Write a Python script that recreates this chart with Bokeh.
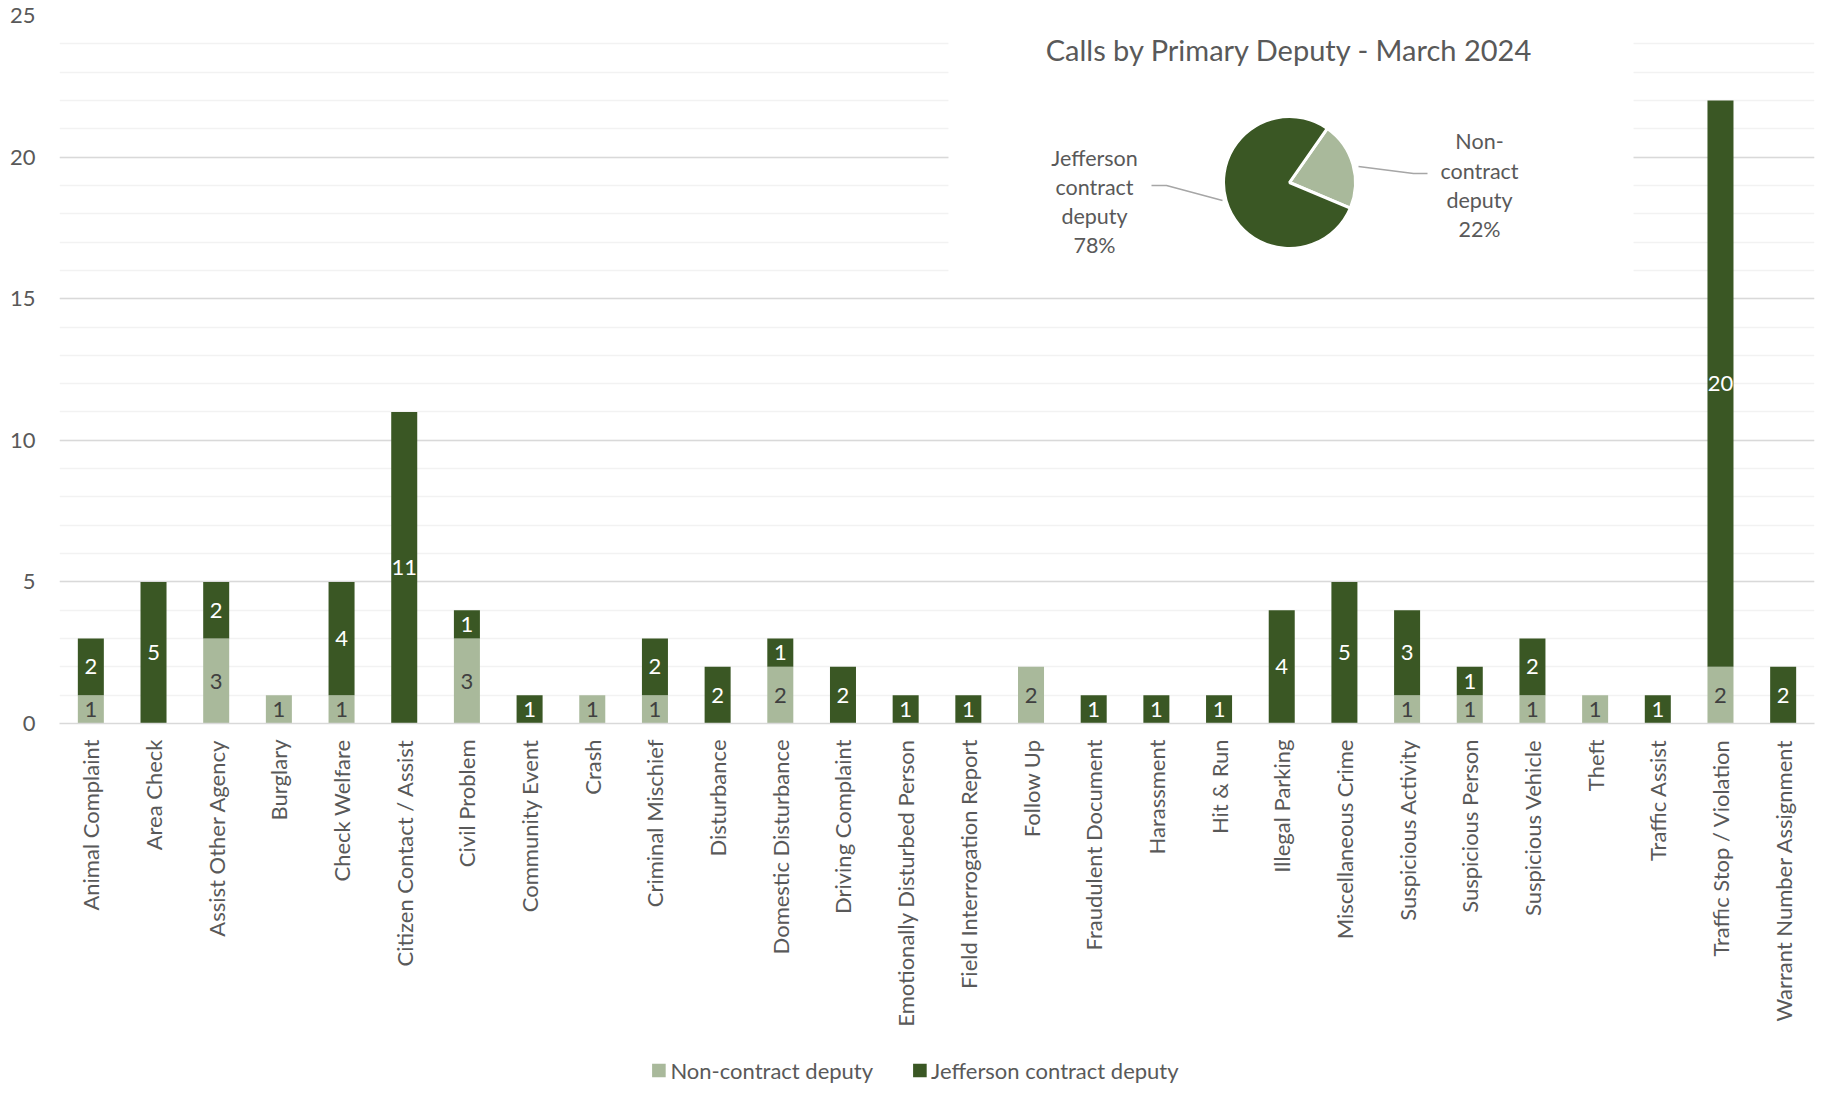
import math
from bokeh.plotting import figure
from bokeh.layouts import column
from bokeh.models import (FactorRange, Range1d, SingleIntervalTicker, Legend,
                          LegendItem, Label, ColumnDataSource)
from bokeh.core.properties import value
from bokeh.embed import file_html
from bokeh.resources import INLINE

# ---------------- data ----------------
categories = [
    "Animal Complaint", "Area Check", "Assist Other Agency", "Burglary",
    "Check Welfare", "Citizen Contact / Assist", "Civil Problem",
    "Community Event", "Crash", "Criminal Mischief", "Disturbance",
    "Domestic Disturbance", "Driving Complaint", "Emotionally Disturbed Person",
    "Field Interrogation Report", "Follow Up", "Fraudulent Document",
    "Harassment", "Hit & Run", "Illegal Parking", "Miscellaneous Crime",
    "Suspicious Activity", "Suspicious Person", "Suspicious Vehicle", "Theft",
    "Traffic Assist", "Traffic Stop / Violation", "Warrant Number Assignment",
]
non_contract = [1, 0, 3, 1, 1, 0, 3, 0, 1, 1, 0, 2, 0, 0,
                0, 2, 0, 0, 0, 0, 0, 1, 1, 1, 1, 0, 2, 0]
jefferson = [2, 5, 2, 0, 4, 11, 1, 1, 0, 2, 2, 1, 2, 1,
             1, 0, 1, 1, 1, 4, 5, 3, 1, 2, 0, 1, 20, 2]
series_names = ["Non-contract deputy", "Jefferson contract deputy"]
pie_title = "Calls by Primary Deputy - March 2024"
y_max = 25

# ---------------- style ----------------
DARK = "#3A5724"
LIGHT = "#A9B99B"
TEXT = "#595959"
FONT = "Lato"

W, H_MAIN, H_LEG = 1829, 1040, 60
FL, FT, FW, FH = 59, 15, 1755, 708
N = len(categories)


def dx(px):  # pixel -> synthetic x
    return (px - FL) / (FW / N)


def dy(py):  # pixel -> data y
    return y_max - (py - FT) / (FH / y_max)


p = figure(x_range=FactorRange(*categories, range_padding=0),
           y_range=Range1d(0, y_max),
           frame_width=FW, frame_height=FH,
           min_border_left=FL, min_border_top=FT,
           min_border_right=W - FL - FW, min_border_bottom=H_MAIN - FT - FH,
           output_backend="svg", toolbar_location=None)
p.outline_line_color = None
p.background_fill_color = "white"

ticker = SingleIntervalTicker(interval=5, num_minor_ticks=5)
p.yaxis.ticker = ticker
p.ygrid.ticker = ticker
p.ygrid.grid_line_color = "#d9d9d9"
p.ygrid.grid_line_width = 1.5
p.ygrid.minor_grid_line_color = "#f2f2f2"
p.ygrid.minor_grid_line_width = 1.5
p.xgrid.grid_line_color = None

p.yaxis.axis_line_color = None
p.yaxis.major_tick_line_color = None
p.yaxis.minor_tick_line_color = None
p.yaxis.major_tick_out = 0
p.yaxis.major_label_standoff = 20
p.yaxis.major_label_text_font = FONT
p.yaxis.major_label_text_font_size = "22px"
p.yaxis.major_label_text_color = TEXT

p.xaxis.axis_line_color = "#d9d9d9"
p.xaxis.axis_line_width = 1.5
p.xaxis.major_tick_line_color = None
p.xaxis.minor_tick_line_color = None
p.xaxis.major_tick_out = 0
p.xaxis.major_label_standoff = 16
p.xaxis.major_label_orientation = math.pi / 2
p.xaxis.major_label_text_font = FONT
p.xaxis.major_label_text_font_size = "22px"
p.xaxis.major_label_text_color = TEXT

# white panel behind the pie chart
p.quad(left=dx(948), right=dx(1633), top=y_max + 0.3, bottom=15.5,
       fill_color="white", line_color=None)

# ---------------- stacked bars ----------------
src = ColumnDataSource(dict(cat=categories, non=non_contract, jef=jefferson))
rs = p.vbar_stack(["non", "jef"], x="cat", width=0.415, source=src,
                  fill_color=[LIGHT, DARK], line_color=None)

# value labels
lx, ly, lt = [], [], []
for c, a in zip(categories, non_contract):
    if a > 0:
        lx.append(c); ly.append(a / 2); lt.append(str(a))
p.text(x=lx, y=ly, text=lt, text_align="center", text_baseline="middle",
       text_font=value(FONT), text_font_size="22px", text_color="#404040")
dx_, dy_, dt_ = [], [], []
for c, a, b in zip(categories, non_contract, jefferson):
    if b > 0:
        dx_.append(c); dy_.append(a + b / 2); dt_.append(str(b))
p.text(x=dx_, y=dy_, text=dt_, text_align="center", text_baseline="middle",
       text_font=value(FONT), text_font_size="22px", text_color="white")

# ---------------- pie ----------------
tot_non = sum(non_contract)
tot_jef = sum(jefferson)
total = tot_non + tot_jef
share_non = tot_non / total
share_jef = tot_jef / total
a0 = math.radians(55)
a1 = a0 - 2 * math.pi * share_non
a2 = a1 - 2 * math.pi * share_jef
cx, cy = dx(1289), dy(182)
p.wedge(x=[cx, cx], y=[cy, cy], radius=66, radius_units="screen",
        start_angle=[a0, a1], end_angle=[a1, a2], direction="clock",
        fill_color=[LIGHT, DARK], line_color="white", line_width=3)

p.add_layout(Label(x=cx, y=dy(49), text=pie_title, text_align="center",
                   text_baseline="middle", text_font=FONT,
                   text_font_size="29px", text_color=TEXT))

jef_lines = ["Jefferson", "contract", "deputy", f"{round(100 * share_jef)}%"]
non_lines = ["Non-", "contract", "deputy", f"{round(100 * share_non)}%"]
p.text(x=[dx(1094)] * 4, y=[dy(v) for v in (157, 186, 215, 244)],
       text=jef_lines, text_align="center", text_baseline="middle",
       text_font=value(FONT), text_font_size="21.5px", text_color=TEXT)
p.text(x=[dx(1479)] * 4, y=[dy(v) for v in (140, 170, 199, 228)],
       text=non_lines, text_align="center", text_baseline="middle",
       text_font=value(FONT), text_font_size="21.5px", text_color=TEXT)

p.line(x=[dx(1151), dx(1166), dx(1222)], y=[dy(185), dy(185), dy(200)],
       line_color="#a6a6a6", line_width=1.5)
p.line(x=[dx(1358), dx(1413), dx(1427)], y=[dy(166), dy(173), dy(173)],
       line_color="#a6a6a6", line_width=1.5)

# ---------------- legend (own strip below the chart) ----------------
LEG_SHIFT = 38
leg = figure(frame_width=W - LEG_SHIFT, frame_height=H_LEG,
             min_border=0, min_border_left=LEG_SHIFT,
             x_range=Range1d(0, 1), y_range=Range1d(0, 1),
             x_axis_type=None, y_axis_type=None,
             output_backend="svg", toolbar_location=None)
leg.outline_line_color = None
leg.grid.visible = False
# placeholder renderers (their one row lies outside the visible range) that
# give the legend its swatches
proxy = ColumnDataSource(dict(x=[-10], top=[-10]))
r_non = leg.vbar(x="x", top="top", width=0.1, source=proxy,
                 fill_color=LIGHT, line_color=None)
r_jef = leg.vbar(x="x", top="top", width=0.1, source=proxy,
                 fill_color=DARK, line_color=None)
legend = Legend(items=[LegendItem(label=series_names[0], renderers=[r_non]),
                       LegendItem(label=series_names[1], renderers=[r_jef])],
                orientation="horizontal", location="center",
                border_line_color=None, background_fill_alpha=0,
                label_text_font=FONT, label_text_font_size="22px",
                label_text_color=TEXT, glyph_width=17, glyph_height=17,
                label_height=26, spacing=38, label_standoff=3,
                padding=0, margin=0)
leg.add_layout(legend, "center")

layout = column(p, leg, spacing=0)
open("out.html", "w").write(file_html(layout, INLINE))
